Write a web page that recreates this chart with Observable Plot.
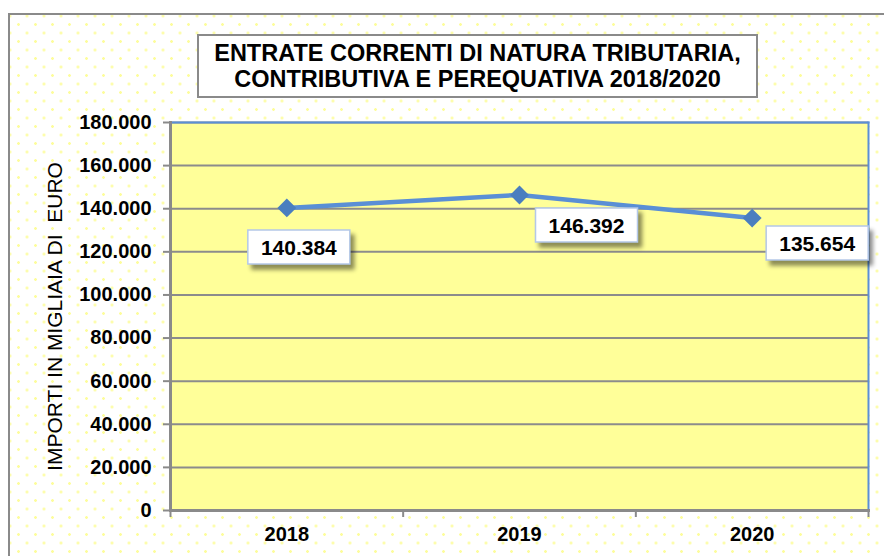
<!DOCTYPE html>
<html>
<head>
<meta charset="utf-8">
<script src="https://cdn.jsdelivr.net/npm/d3@7"></script>
<script src="https://cdn.jsdelivr.net/npm/@observablehq/plot@0.6"></script>
<style>
  html, body { margin: 0; padding: 0; background: #fff; }
  #wrap { position: relative; width: 884px; height: 556px; overflow: hidden; font-family: "Liberation Sans", Arial, sans-serif; }
  #frame {
    position: absolute; left: 8px; top: 13px; width: 900px; height: 600px;
    border-top: 2px solid #8a8a8a; border-left: 2px solid #8a8a8a;
    background-color: #fff;
    background-image:
      radial-gradient(circle, #fdfd9c 1.1px, transparent 1.6px),
      radial-gradient(circle, #fdfd9c 1.1px, transparent 1.6px);
    background-size: 17px 17px, 17px 17px;
    background-position: 0px 1px, 8.5px 9.5px;
  }
  #chart { position: absolute; left: 0; top: 0; }
  #title {
    position: absolute; left: 197px; top: 34px; width: 557px; height: 60px;
    border: 2px solid #8a8a8a; background: #fff;
    box-sizing: content-box;
    font-weight: bold; font-size: 23.5px; line-height: 26px; text-align: center; color: #000;
    display: flex; flex-direction: column; justify-content: center;
    white-space: nowrap;
  }
</style>
</head>
<body>
<div id="wrap">
  <div id="frame"></div>
  <div id="chart"></div>
  <div id="title"><div>ENTRATE CORRENTI DI NATURA TRIBUTARIA,</div><div>CONTRIBUTIVA E PEREQUATIVA 2018/2020</div></div>
</div>
<script>
// ---- data ----
const years = [2018, 2019, 2020];
const values = [140384, 146392, 135654];
const yTicks = [0, 20000, 40000, 60000, 80000, 100000, 120000, 140000, 160000, 180000];
const yLabel = "IMPORTI IN MIGLIAIA DI  EURO";

const data = years.map((year, i) => ({year, value: values[i]}));
const it = d3.formatLocale({decimal: ",", thousands: ".", grouping: [3], currency: ["", "€"]});
const fmt = it.format(",");
const boundaries = [years[0] - 0.5, ...years.map(y => y + 0.5)];

const boxSymbol = {
  draw(ctx) {
    ctx.moveTo(-51, -17); ctx.lineTo(51, -17); ctx.lineTo(51, 17); ctx.lineTo(-51, 17); ctx.closePath();
  }
};
const shifts = [[12, 39], [67, 30], [65, 25]];

const labelMarks = data.flatMap((d, i) => [
  Plot.dot([d], {x: "year", y: "value", symbol: boxSymbol, r: 1, fill: "#fff", stroke: "#b4c8e8", strokeWidth: 1.5,
    dx: shifts[i][0], dy: shifts[i][1], imageFilter: "drop-shadow(4px 5px 2px rgba(0,0,0,0.45))"}),
  Plot.text([d], {x: "year", y: "value", text: d => fmt(d.value), dx: shifts[i][0], dy: shifts[i][1] + 1,
    fontSize: 21, fontWeight: "bold", fill: "#000"})
]);

const chart = Plot.plot({
  width: 884,
  height: 556,
  marginLeft: 170,
  marginRight: 16,
  marginTop: 122,
  marginBottom: 46,
  style: {background: "transparent", fontFamily: "'Liberation Sans', Arial, sans-serif", color: "#000"},
  x: {type: "linear", domain: [years[0] - 0.5, years[years.length - 1] + 0.5]},
  y: {domain: [0, 180000]},
  marks: [
    Plot.frame({fill: "#ffff99"}),
    Plot.gridY(yTicks, {stroke: "#8c8c8c", strokeOpacity: 1, strokeWidth: 2}),
    Plot.frame({anchor: "top", stroke: "#5b8fd5", strokeWidth: 2}),
    Plot.frame({anchor: "right", stroke: "#5b8fd5", strokeWidth: 2}),
    Plot.frame({anchor: "left", stroke: "#8a8a8a", strokeWidth: 3}),
    Plot.frame({anchor: "bottom", stroke: "#8a8a8a", strokeWidth: 3}),
    Plot.axisY({ticks: yTicks, tickSize: 7, tickPadding: 12, tickFormat: fmt, label: null,
      fontSize: 20, fontWeight: "bold", stroke: "#8a8a8a", strokeWidth: 2}),
    Plot.axisX({ticks: boundaries, tickSize: 7, tickFormat: () => "", label: null, stroke: "#8a8a8a", strokeWidth: 2}),
    Plot.axisX({ticks: years, tickSize: 0, tickPadding: 16, tickFormat: d => String(d), label: null,
      fontSize: 20, fontWeight: "bold"}),
    Plot.text([yLabel], {frameAnchor: "left", textAnchor: "middle", lineAnchor: "middle", rotate: -90, dx: -115, fontSize: 21, fill: "#000"}),
    Plot.line(data, {x: "year", y: "value", stroke: "#5a8fd5", strokeWidth: 4.5}),
    Plot.dot(data, {x: "year", y: "value", symbol: "diamond2", r: 8.5, fill: "#4a7ebf", stroke: null}),
    ...labelMarks
  ]
});
document.getElementById("chart").appendChild(chart);
</script>
</body>
</html>
